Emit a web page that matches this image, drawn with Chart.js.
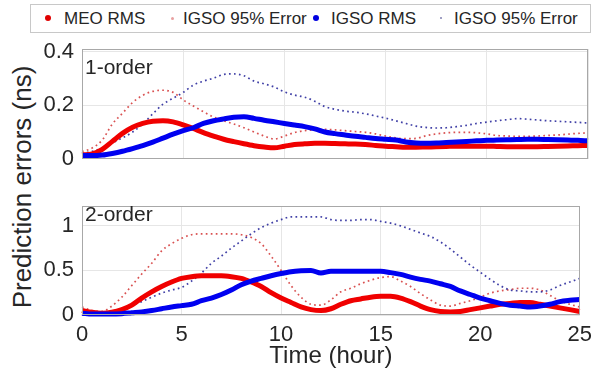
<!DOCTYPE html>
<html>
<head>
<meta charset="utf-8">
<script src="https://cdn.jsdelivr.net/npm/chart.js@4.4.0/dist/chart.umd.min.js"></script>
<style>
  html, body { margin: 0; padding: 0; background: #fff; }
  body { width: 599px; height: 374px; position: relative; overflow: hidden;
         font-family: 'Liberation Sans', Arial, sans-serif; color: #262626; }
  canvas { position: absolute; left: 0; }
  #topChart { top: 0; }
  #botChart { top: 185px; }
  .legend { position: absolute; left: 30px; top: 4px; width: 561px; height: 29px;
            border: 1px solid #c8c8c8; box-sizing: border-box; background: #fff; }
  .item { position: absolute; top: 0; height: 27px; line-height: 27px; font-size: 17px; white-space: nowrap; }
  .mk { position: absolute; border-radius: 50%; }
  .panel { position: absolute; left: 85px; font-size: 21px; line-height: 21px; }
  .ytitle { position: absolute; left: 22px; top: 187px; transform: translate(-50%, -50%) rotate(-90deg);
            font-size: 26px; white-space: nowrap; }
</style>
</head>
<body>
<div class="legend">
  <span class="mk" style="left:14px;top:10px;width:6px;height:6px;background:#e00000;"></span>
  <span class="item" style="left:33px;">MEO RMS</span>
  <span class="mk" style="left:140px;top:12px;width:3px;height:3px;background:#e8a0a0;"></span>
  <span class="item" style="left:152px;">IGSO 95% Error</span>
  <span class="mk" style="left:282px;top:10px;width:6px;height:6px;background:#0000e0;"></span>
  <span class="item" style="left:300px;">IGSO RMS</span>
  <span class="mk" style="left:409px;top:12px;width:2px;height:2px;background:#8080b0;"></span>
  <span class="item" style="left:423px;">IGSO 95% Error</span>
</div>
<div class="ytitle">Prediction errors (ns)</div>
<canvas id="topChart" width="599" height="180"></canvas>
<canvas id="botChart" width="599" height="189"></canvas>
<div class="panel" style="top:56px;">1-order</div>
<div class="panel" style="top:203px;">2-order</div>
<script>
'use strict';

// Time axis (hours)
const hours = [
  0, 0.5, 1, 1.5, 2, 2.5, 3, 3.5, 4, 4.5,
  5, 5.5, 6, 6.5, 7, 7.5, 8, 8.5, 9, 9.5,
  10, 10.5, 11, 11.5, 12, 12.5, 13, 13.5, 14, 14.5,
  15, 15.5, 16, 16.5, 17, 17.5, 18, 18.5, 19, 19.5,
  20, 20.5, 21, 21.5, 22, 22.5, 23, 23.5, 24, 24.5,
  25
];
const xTicks = [0, 5, 10, 15, 20, 25];
const topTicks = [0, 0.2, 0.4];
const botTicks = [0, 0.5, 1];

// 1-order
const meoRms1 = [
  0.015, 0.018, 0.035, 0.065, 0.095, 0.118, 0.132, 0.140, 0.142, 0.138,
  0.127, 0.113, 0.098, 0.085, 0.073, 0.064, 0.056, 0.049, 0.044, 0.041,
  0.047, 0.053, 0.056, 0.058, 0.058, 0.057, 0.056, 0.055, 0.053, 0.050,
  0.047, 0.045, 0.043, 0.043, 0.044, 0.045, 0.046, 0.047, 0.047, 0.047,
  0.047, 0.046, 0.045, 0.045, 0.045, 0.045, 0.046, 0.047, 0.048, 0.049,
  0.050
];
const igsoRms1 = [
  0.012, 0.012, 0.014, 0.020, 0.028, 0.038, 0.049, 0.062, 0.077, 0.092,
  0.105, 0.116, 0.132, 0.142, 0.149, 0.155, 0.157, 0.151, 0.144, 0.138,
  0.132, 0.126, 0.120, 0.112, 0.100, 0.094, 0.089, 0.084, 0.080, 0.076,
  0.073, 0.070, 0.063, 0.059, 0.058, 0.059, 0.061, 0.063, 0.065, 0.067,
  0.069, 0.070, 0.071, 0.072, 0.073, 0.073, 0.072, 0.071, 0.070, 0.069,
  0.067
];
const meo95_1 = [
  0.027, 0.040, 0.070, 0.130, 0.170, 0.210, 0.237, 0.252, 0.256, 0.248,
  0.220, 0.197, 0.176, 0.156, 0.142, 0.130, 0.116, 0.100, 0.085, 0.074,
  0.085, 0.098, 0.105, 0.108, 0.110, 0.108, 0.105, 0.102, 0.099, 0.093,
  0.085, 0.078, 0.075, 0.076, 0.086, 0.093, 0.097, 0.099, 0.099, 0.097,
  0.093, 0.087, 0.085, 0.084, 0.084, 0.085, 0.087, 0.089, 0.092, 0.095,
  0.097
];
const igso95_1 = [
  0.020, 0.028, 0.040, 0.060, 0.078, 0.100, 0.130, 0.168, 0.204, 0.226,
  0.248, 0.275, 0.290, 0.301, 0.315, 0.317, 0.310, 0.290, 0.280, 0.268,
  0.250, 0.238, 0.230, 0.215, 0.195, 0.185, 0.178, 0.174, 0.168, 0.160,
  0.152, 0.142, 0.132, 0.122, 0.117, 0.115, 0.116, 0.120, 0.125, 0.132,
  0.137, 0.142, 0.146, 0.150, 0.148, 0.145, 0.142, 0.140, 0.138, 0.136,
  0.134
];

// 2-order
const meoRms2 = [
  0.050, 0.030, 0.020, 0.030, 0.060, 0.110, 0.190, 0.260, 0.320, 0.370,
  0.410, 0.430, 0.440, 0.440, 0.440, 0.430, 0.410, 0.370, 0.320, 0.250,
  0.190, 0.140, 0.090, 0.060, 0.050, 0.070, 0.120, 0.160, 0.180, 0.200,
  0.210, 0.210, 0.190, 0.150, 0.100, 0.060, 0.040, 0.035, 0.040, 0.060,
  0.080, 0.100, 0.120, 0.130, 0.140, 0.140, 0.120, 0.100, 0.080, 0.060,
  0.040
];
const igsoRms2 = [
  0.020, 0.010, 0.010, 0.010, 0.015, 0.025, 0.035, 0.050, 0.070, 0.090,
  0.105, 0.120, 0.160, 0.190, 0.230, 0.280, 0.340, 0.380, 0.410, 0.440,
  0.465, 0.485, 0.495, 0.500, 0.470, 0.490, 0.490, 0.490, 0.490, 0.490,
  0.490, 0.475, 0.455, 0.425, 0.400, 0.380, 0.350, 0.320, 0.270, 0.230,
  0.190, 0.160, 0.130, 0.110, 0.100, 0.090, 0.100, 0.120, 0.150, 0.165,
  0.175
];
const meo95_2 = [
  0.090, 0.050, 0.040, 0.100, 0.200, 0.330, 0.460, 0.580, 0.720, 0.800,
  0.860, 0.900, 0.910, 0.910, 0.910, 0.910, 0.900, 0.870, 0.800, 0.660,
  0.500, 0.330, 0.200, 0.120, 0.110, 0.170, 0.260, 0.300, 0.350, 0.390,
  0.420, 0.430, 0.380, 0.320, 0.240, 0.170, 0.110, 0.100, 0.130, 0.160,
  0.200, 0.245, 0.270, 0.285, 0.300, 0.300, 0.280, 0.220, 0.160, 0.120,
  0.090
];
const igso95_2 = [
  0.035, 0.025, 0.025, 0.035, 0.065, 0.110, 0.150, 0.200, 0.245, 0.280,
  0.310, 0.380, 0.470, 0.580, 0.660, 0.750, 0.830, 0.910, 0.980, 1.030,
  1.070, 1.100, 1.100, 1.100, 1.100, 1.070, 1.060, 1.060, 1.070, 1.070,
  1.050, 1.030, 1.000, 0.960, 0.920, 0.880, 0.820, 0.740, 0.650, 0.560,
  0.480, 0.400, 0.330, 0.280, 0.270, 0.260, 0.260, 0.280, 0.330, 0.370,
  0.410
];

const FONT = "'Liberation Sans', Arial, sans-serif";
const TEXT = '#262626';
const GRID = '#e6e6e6';

const toPoints = vals => hours.map((h, i) => ({ x: h, y: vals[i] }));

function buildSets(meoRms, igsoRms, meo95, igso95) {
  const base = { pointRadius: 0, clip: false, cubicInterpolationMode: 'monotone', fill: false };
  return [
    { ...base, label: 'IGSO RMS', data: toPoints(igsoRms), borderColor: '#0000f0', borderWidth: 5, order: 1 },
    { ...base, label: 'MEO RMS', data: toPoints(meoRms), borderColor: '#f00000', borderWidth: 5, order: 2 },
    { ...base, label: 'IGSO 95% Error', data: toPoints(igso95), borderColor: 'rgba(30,30,150,0.85)',
      borderWidth: 1.7, borderDash: [1.7, 3.3], order: 3 },
    { ...base, label: 'MEO 95% Error', data: toPoints(meo95), borderColor: 'rgba(210,50,50,0.85)',
      borderWidth: 1.7, borderDash: [1.7, 3.3], order: 4 }
  ];
}

// box around each plot area
const boxPlugin = {
  id: 'box',
  afterDraw(chart) {
    const a = chart.chartArea, c = chart.ctx;
    c.save();
    c.strokeStyle = '#a8a8a8';
    c.lineWidth = 1;
    c.strokeRect(Math.round(a.left) + 0.5, Math.round(a.top) + 0.5,
                 Math.round(a.right - a.left) - 1, Math.round(a.bottom - a.top) - 1);
    c.restore();
  }
};

function makeChart(id, sets, yMax, yTicks, isBottom) {
  return new Chart(document.getElementById(id), {
    type: 'line',
    data: { datasets: sets },
    options: {
      responsive: false, animation: false, devicePixelRatio: 1,
      layout: { padding: { top: isBottom ? 4 : 49, right: 11, bottom: isBottom ? 0 : 4, left: 0 } },
      plugins: { legend: { display: false }, tooltip: { enabled: false } },
      scales: {
        x: {
          type: 'linear', min: 0, max: 25,
          afterBuildTicks: s => { s.ticks = xTicks.map(v => ({ value: v })); },
          afterFit: s => { s.height = isBottom ? 59 : 0; },
          grid: { color: GRID, drawTicks: false },
          border: { display: false },
          ticks: { display: isBottom, padding: 7, color: TEXT, font: { family: FONT, size: 22 } },
          title: { display: isBottom, text: 'Time (hour)', color: TEXT,
                   font: { family: FONT, size: 24 }, padding: { top: 0, bottom: 3 } }
        },
        y: {
          min: 0, max: yMax,
          afterBuildTicks: s => { s.ticks = yTicks.map(v => ({ value: v })); },
          afterFit: s => { s.width = 82; },
          grid: { color: GRID, drawTicks: false },
          border: { display: false },
          ticks: { padding: 8, color: TEXT, font: { family: FONT, size: 22 }, callback: v => String(v) }
        }
      }
    },
    plugins: [boxPlugin]
  });
}

makeChart('topChart', buildSets(meoRms1, igsoRms1, meo95_1, igso95_1), 0.41, topTicks, false);
makeChart('botChart', buildSets(meoRms2, igsoRms2, meo95_2, igso95_2), 1.22, botTicks, true);
</script>
</body>
</html>
